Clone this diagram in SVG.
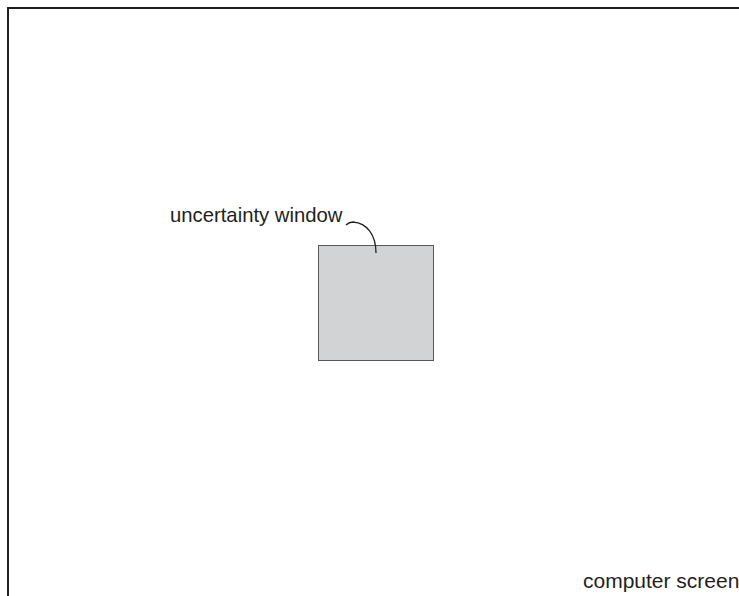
<svg xmlns="http://www.w3.org/2000/svg" width="739" height="596" viewBox="0 0 739 596">
<style>
.lbl{font-family:"Liberation Sans",Arial,sans-serif;font-size:20.3px;fill:#231f20}
.frame{fill:none;stroke:#231f20;stroke-width:2}
.leader{fill:none;stroke:#231f20;stroke-width:1.3}
</style>
<rect width="739" height="596" fill="#fff"/>
<g id="screen">
<path class="frame" d="M8,600 V8 H745"/>
<text class="lbl" x="583" y="588" style="font-size:21px">computer screen</text>
</g>
<g id="window">
<rect x="318.5" y="245.5" width="115" height="115" fill="#d2d3d5" stroke="#58595b" stroke-width="1"/>
<text class="lbl" x="170" y="222">uncertainty window</text>
</g>
<g id="connectors">
<path class="leader" d="M346,225 C348,223 350,222 353,222 C367,223 376,235 376,253"/>
</g>
</svg>
